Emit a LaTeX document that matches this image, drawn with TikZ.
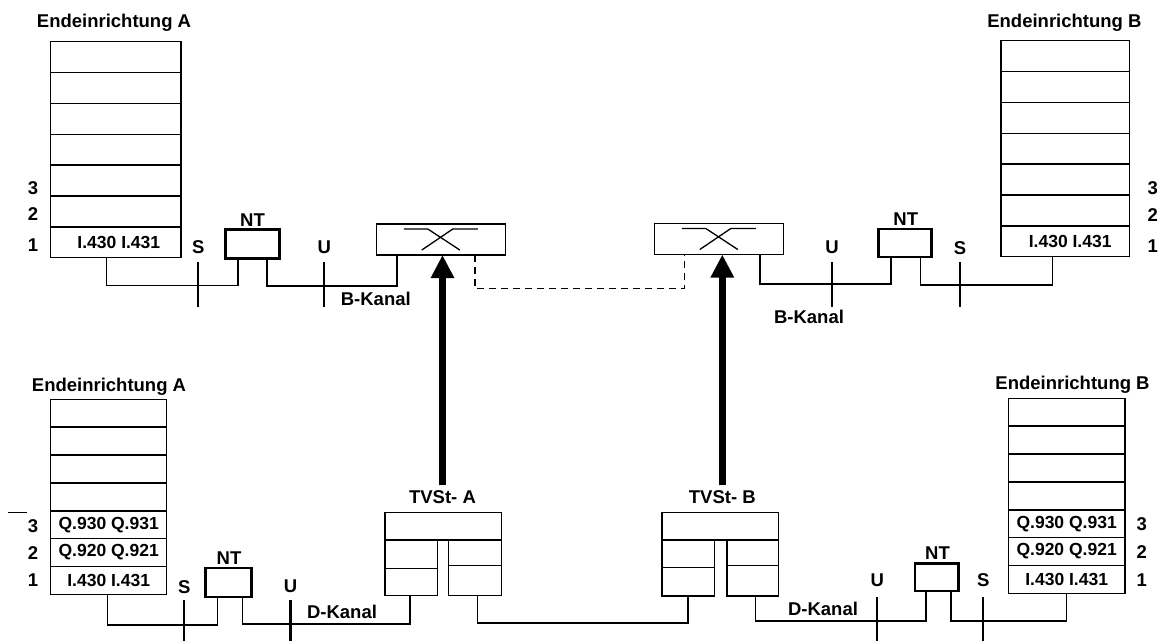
\documentclass[tikz,border=0pt]{standalone}
\usepackage{fontspec}
\setmainfont{Liberation Sans}
\newfontfamily\widef{Liberation Sans Bold}
\newfontfamily\numf{Liberation Sans Bold}
\usetikzlibrary{arrows.meta}
\begin{document}
\begin{tikzpicture}[x=1pt,y=-1pt,
  every node/.style={outer sep=0pt},
  box/.style={draw, line width=1.5pt, inner sep=0pt, font=\numf\fontsize{17.5}{20}\selectfont},
  ntbox/.style={draw, line width=2.6pt, inner sep=0pt},
  swbox/.style={draw, line width=1.5pt, inner sep=0pt, minimum width=129pt, minimum height=31pt},
  wire/.style={line width=1.5pt},
  tick/.style={line width=2.3pt},
  lbl/.style={font=\widef\fontsize{18.5}{21}\selectfont, inner sep=1pt},
  num/.style={font=\numf\fontsize{18.5}{21}\selectfont, inner sep=1pt},
  bigarrow/.style={line width=7pt, -{Triangle[width=22pt,length=23pt]}},
  xsym/.pic={
    \draw[line width=1.3pt] (-37,-10.5) -- (-13,-10.5) -- (19,10.5);
    \draw[line width=1.3pt] (37,-10.5) -- (12,-10.5) -- (-19,10.5);
  }]
\useasboundingbox (0,0) rectangle (1159,641);

% ---------------- top half ----------------
\node[lbl] (eA1) at (114,23) {Endeinrichtung A};
\node[lbl] (eB1) at (1064.4,22.3) {Endeinrichtung B};

\foreach \i/\t in {1/{},2/{},3/{},4/{},5/{},6/{},7/{\hspace*{6pt}I.430 I.431}}
  \node[box, minimum width=130.3pt, minimum height=30.86pt] (ta\i) at (115.85,{41.7+(\i-0.5)*30.86}) {\t};
\foreach \i/\t in {1/{},2/{},3/{},4/{},5/{},6/{},7/{\hspace*{10pt}I.430 I.431}}
  \node[box, minimum width=128.3pt, minimum height=30.86pt] (tb\i) at (1065.15,{40.7+(\i-0.5)*30.86}) {\t};

\node[num] (la3) at (33,188) {3};
\node[num] (la2) at (33,214) {2};
\node[num] (la1) at (33,245) {1};
\node[num] (lb3) at (1152.7,188) {3};
\node[num] (lb2) at (1152.7,215) {2};
\node[num] (lb1) at (1152.7,246) {1};

\node[ntbox, minimum width=53.5pt, minimum height=29pt] (ntA) at (252.5,244) {};
\node[lbl] (ntAl) at (252.5,220) {NT};
\node[ntbox, minimum width=53.4pt, minimum height=28pt] (ntB) at (905,243) {};
\node[lbl] (ntBl) at (905.8,219) {NT};

\node[swbox] (swA) at (440.8,239.5) {};
\node[swbox] (swB) at (718.8,239) {};
\pic at (swA.center) {xsym};
\pic at (swB.center) {xsym};

\node[lbl] (sA) at (198.3,247) {S};
\node[lbl] (uA) at (324.3,247) {U};
\node[lbl] (uB) at (832,247) {U};
\node[lbl] (sB) at (960,248) {S};
\draw[tick] (sA |- 0,262) -- (sA |- 0,307);
\draw[tick] (uA |- 0,262) -- (uA |- 0,307);
\draw[tick] (uB |- 0,262) -- (uB |- 0,307);
\draw[tick] (sB |- 0,262) -- (sB |- 0,307);

\node[lbl] (bkA) at (375.8,299) {B-Kanal};
\node[lbl] (bkB) at (809,317) {B-Kanal};

\draw[wire] ([xshift=-9.15pt]ta7.south) -- ++(0,28) -| ([xshift=12pt]ntA.south west);
\draw[wire] ([xshift=-12.5pt]ntA.south east) -- ++(0,27.5) -| ([xshift=-44pt]swA.south);
\draw[wire, dash pattern=on 7pt off 5pt] ([xshift=34pt]swA.south) -- ++(0,33.5) -| ([xshift=-34.5pt]swB.south);
\draw[wire] ([xshift=41pt]swB.south) -- ++(0,29.5) -| ([xshift=12.7pt]ntB.south west);
\draw[wire] ([xshift=-11pt]ntB.south east) -- ++(0,28) -| ([xshift=-12.85pt]tb7.south);

% ---------------- bottom half ----------------
\node[lbl] (eA2) at (109,386.7) {Endeinrichtung A};
\node[lbl] (eB2) at (1072.5,385) {Endeinrichtung B};

\foreach \i/\t in {1/{},2/{},3/{},4/{},5/{Q.930 Q.931},6/{Q.920 Q.921},7/{I.430 I.431}}
  \node[box, minimum width=116pt, minimum height=27.86pt] (tc\i) at (108.7,{399.3+(\i-0.5)*27.86}) {\t};
\foreach \i/\t in {1/{},2/{},3/{},4/{},5/{Q.930 Q.931},6/{Q.920 Q.921},7/{I.430 I.431}}
  \node[box, minimum width=116.7pt, minimum height=27.86pt] (td\i) at (1066.65,{398.3+(\i-0.5)*27.86}) {\t};

\node[num] (lc3) at (33,526) {3};
\node[num] (lc2) at (33,553) {2};
\node[num] (lc1) at (33,580) {1};
\node[num] (ld3) at (1141.7,524) {3};
\node[num] (ld2) at (1141.7,552) {2};
\node[num] (ld1) at (1141.7,580) {1};
\draw[line width=1.3pt] (8,512.5) -- (27,512.5);

\node[ntbox, minimum width=45.5pt, minimum height=29pt] (ntC) at (228.5,582.5) {};
\node[lbl] (ntCl) at (229,558) {NT};
\node[ntbox, minimum width=43.3pt, minimum height=27.7pt] (ntD) at (936.7,577.2) {};
\node[lbl] (ntDl) at (937.5,553.3) {NT};

\node[lbl] (sC) at (184.3,587) {S};
\node[lbl] (uC) at (290.5,586) {U};
\node[lbl] (uD) at (877.3,580) {U};
\node[lbl] (sD) at (983.3,580) {S};
\draw[tick] (sC |- 0,600) -- (sC |- 0,641);
\draw[tick] (uC |- 0,600) -- (uC |- 0,641);
\draw[tick] (uD |- 0,596.7) -- (uD |- 0,641);
\draw[tick] (sD |- 0,596.7) -- (sD |- 0,641);

% TVSt A
\node[box, minimum width=116.7pt, minimum height=27.3pt] (tvA) at (443.3,526.35) {};
\node[box, minimum width=52.3pt, minimum height=28.3pt] (tvAl1) at (411.15,554.15) {};
\node[box, minimum width=52.3pt, minimum height=27.4pt] (tvAl2) at (411.15,582) {};
\node[box, minimum width=53.4pt, minimum height=25.7pt] (tvAr1) at (475,552.85) {};
\node[box, minimum width=53.4pt, minimum height=30pt] (tvAr2) at (475,580.7) {};
% TVSt B
\node[box, minimum width=116.8pt, minimum height=27.5pt] (tvB) at (720.2,526.25) {};
\node[box, minimum width=52.5pt, minimum height=27.3pt] (tvBl1) at (688.05,553.65) {};
\node[box, minimum width=52.5pt, minimum height=28.7pt] (tvBl2) at (688.05,581.65) {};
\node[box, minimum width=51.8pt, minimum height=25.7pt] (tvBr1) at (752.7,552.85) {};
\node[box, minimum width=51.8pt, minimum height=30.3pt] (tvBr2) at (752.7,580.85) {};

\node[lbl] (tlA) at (442.5,497) {TVSt- A};
\node[lbl] (tlB) at (722.3,497) {TVSt- B};

\node[lbl] (dkA) at (342,612) {D-Kanal};
\node[lbl] (dkB) at (823,609) {D-Kanal};

\draw[wire] ([xshift=-1.4pt]tc7.south) -- ++(0,30.7) -| ([xshift=11.7pt]ntC.south west);
\draw[wire] ([xshift=-9pt]ntC.south east) -- ++(0,27) -| ([xshift=-1pt]tvAl2.south);
\draw[wire] ([xshift=2.3pt]tvAr2.south) -- ++(0,27.3) -| (tvBl2.south);
\draw[wire] ([xshift=2.7pt]tvBr2.south) -- ++(0,25) -| ([xshift=11pt]ntD.south west);
\draw[wire] ([xshift=-7.3pt]ntD.south east) -- ++(0,29.7) -| (td7.south);

% exchange control arrows
\draw[bigarrow] ([yshift=4pt]tlA.north) -- (tlA.north |- swA.south);
\draw[bigarrow] ([yshift=4pt]tlB.north) -- (tlB.north |- swB.south);
\end{tikzpicture}
\end{document}
